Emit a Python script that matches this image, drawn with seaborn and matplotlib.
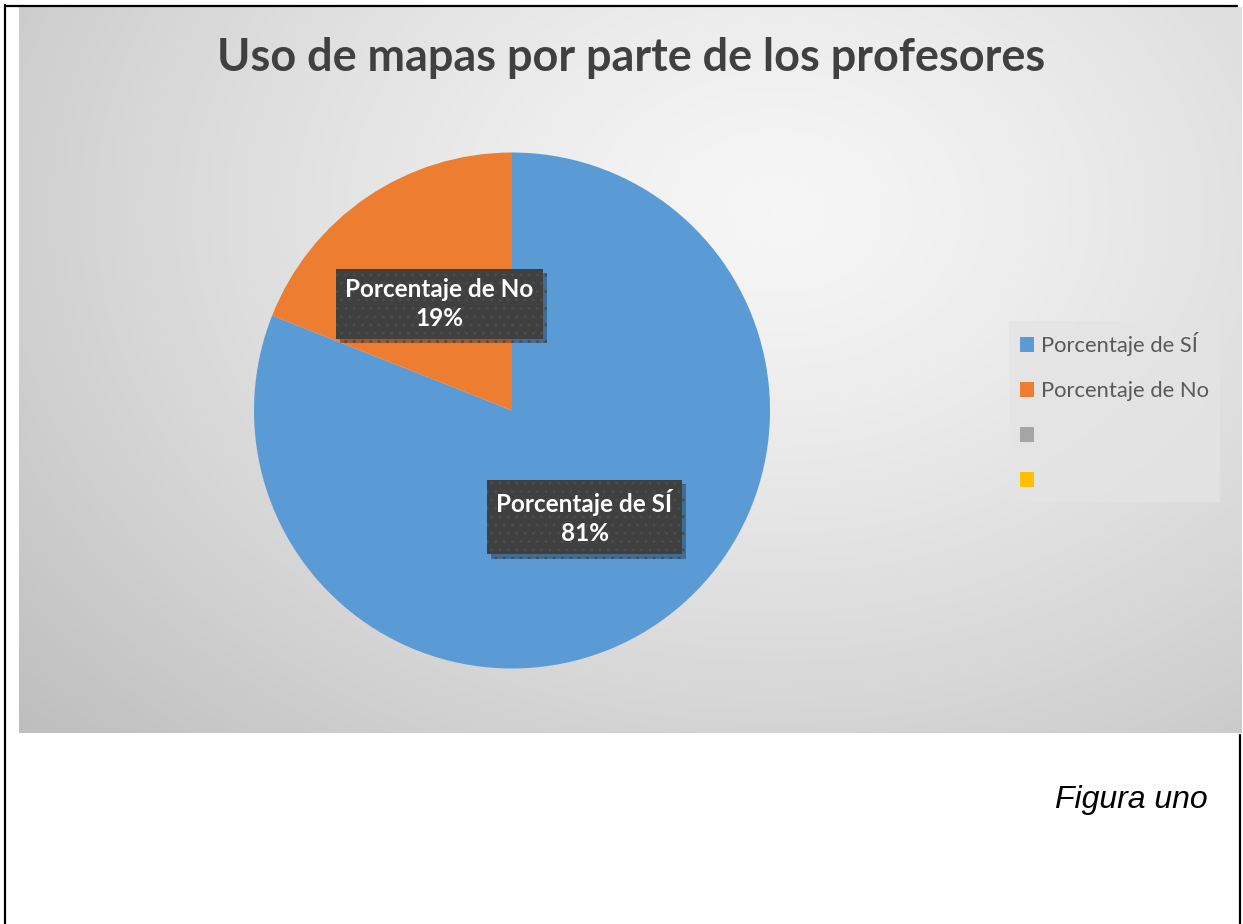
import numpy as np
import seaborn as sns
import matplotlib.pyplot as plt
import matplotlib.patheffects as pe
from matplotlib.patches import Patch
from matplotlib.lines import Line2D

# datos del grafico
categorias = ["Porcentaje de SÍ", "Porcentaje de No"]
porcentajes = [81, 19]
leyenda = ["Porcentaje de SÍ", "Porcentaje de No", " ", " "]
colores = ["#5B9BD5", "#ED7D31", "#A5A5A5", "#FFC000"]
titulo = "Uso de mapas por parte de los profesores"
pie_figura = "Figura uno"

sns.set_theme(style="white")
plt.rcParams["font.family"] = ["Lato", "DejaVu Sans"]

W, H = 1243, 924
fig = plt.figure(figsize=(W / 100, H / 100), dpi=100)
fig.patch.set_facecolor("white")

# fondo con degradado radial (area del grafico)
x0, x1, y0, y1 = 19, 1242, 7, 733
bg = fig.add_axes([x0 / W, 1 - y1 / H, (x1 - x0) / W, (y1 - y0) / H])
gx, gy = np.meshgrid(np.linspace(0, 1, 300), np.linspace(0, 1, 200))
d = np.sqrt(((gx - 0.62) / 0.75) ** 2 + ((gy - 0.28) / 0.95) ** 2)
val = 0.965 - 0.19 * np.clip(d, 0, 1.15) ** 1.3
img = np.dstack([val, val, val])
bg.imshow(img, aspect="auto", extent=[0, 1, 1, 0], interpolation="bilinear")
bg.axis("off")

# pastel
cx, cy, r = 512, 410.5, 258
ax = fig.add_axes([(cx - r) / W, 1 - (cy + r) / H, 2 * r / W, 2 * r / H])
wedges, _ = ax.pie(porcentajes, colors=colores[:2], startangle=90,
                   counterclock=False, radius=1,
                   wedgeprops=dict(linewidth=0))
ax.set_xlim(-1, 1)
ax.set_ylim(-1, 1)
ax.axis("off")

for w, cat, p in zip(wedges, categorias, porcentajes):
    ang = np.deg2rad((w.theta1 + w.theta2) / 2)
    tx, ty = 0.5 * np.cos(ang), 0.5 * np.sin(ang)
    t = ax.text(tx, ty, f"{cat}\n{p}%", ha="center", va="center",
                fontsize=17.5, fontweight="bold", color="white", linespacing=1.32,
                bbox=dict(boxstyle="square,pad=0.38", fc="#404040",
                          ec="#4c4c4c", lw=0, hatch=".."))
    t.get_bbox_patch().set_path_effects(
        [pe.SimplePatchShadow(offset=(3, -3), shadow_rgbFace="black", alpha=0.3),
         pe.Normal()])

# titulo
fig.text(631 / W, 1 - 58 / H, titulo, ha="center", va="center",
         fontsize=32.4, fontweight="bold", color="#404040")

# leyenda
handles = [Patch(facecolor=c, edgecolor="none") for c in colores]
leg = fig.legend(handles, leyenda, loc="upper left",
                 bbox_to_anchor=(1009 / W, 1 - 321 / H),
                 frameon=True, fancybox=False, fontsize=15.8,
                 handlelength=0.64, handleheight=0.64, handletextpad=0.3,
                 labelspacing=1.14, borderpad=0.5, borderaxespad=0)
leg.get_frame().set_facecolor("#e4e4e4")
leg.get_frame().set_edgecolor("none")
for t in leg.get_texts():
    t.set_color("#595959")

# texto inferior
fig.text(1208 / W, 1 - 800 / H, pie_figura, ha="right", va="center",
         fontsize=23, style="italic", color="black",
         family=["Liberation Sans", "DejaVu Sans"])

# bordes de la pagina
fig.add_artist(Line2D([5 / W, 5 / W], [0, 1 - 5 / H], color="black", lw=1.6))
fig.add_artist(Line2D([5 / W, 1237 / W], [1 - 6 / H, 1 - 6 / H], color="black", lw=1.6))
fig.add_artist(Line2D([1240 / W, 1240 / W], [0, 1 - 735 / H], color="black", lw=1.6))

fig.savefig("out.png", dpi=100)
